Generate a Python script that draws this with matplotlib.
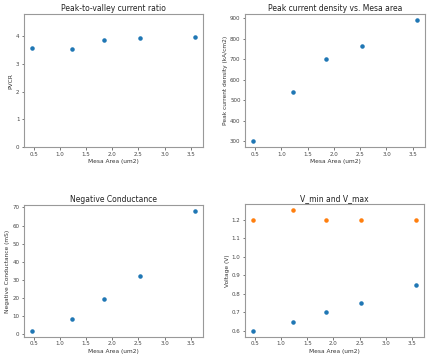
import matplotlib
matplotlib.use("Agg")
import matplotlib.pyplot as plt

mesa_area = [0.47, 1.23, 1.85, 2.53, 3.58]
pvcr = [3.57, 3.55, 3.88, 3.94, 3.99]
peak_density = [300, 538, 700, 762, 890]
neg_conductance = [1.7, 8.0, 19.3, 32.0, 68.0]
v_min = [0.60, 0.65, 0.70, 0.75, 0.85]
v_max = [1.20, 1.25, 1.20, 1.20, 1.20]

blue = "#1f77b4"
orange = "#ff7f0e"

fig = plt.figure(figsize=(4.37, 3.63), dpi=100)

positions = [
    [0.055, 0.595, 0.41, 0.366],
    [0.561, 0.595, 0.412, 0.366],
    [0.055, 0.072, 0.41, 0.363],
    [0.561, 0.072, 0.410, 0.365],
]
axes = [fig.add_axes(p) for p in positions]

title_fs = 5.5
tick_fs = 4
label_fs = 4.2

def style(ax, title, ylabel):
    ax.set_title(title, fontsize=title_fs, color="#222222", pad=2.5)
    ax.set_xlabel("Mesa Area (um2)", fontsize=label_fs, color="#333333", labelpad=1.5)
    ax.set_ylabel(ylabel, fontsize=label_fs, color="#333333", labelpad=1.5)
    ax.tick_params(labelsize=tick_fs, length=1.8, width=0.5, pad=1.5,
                   colors="#444444")
    for s in ax.spines.values():
        s.set_color("#999999")
        s.set_linewidth(0.8)

ms = 5
ax = axes[0]
ax.scatter(mesa_area, pvcr, s=ms, color=blue)
ax.set_ylim(0, 4.8)
style(ax, "Peak-to-valley current ratio", "PVCR")

ax = axes[1]
ax.scatter(mesa_area, peak_density, s=ms, color=blue)
style(ax, "Peak current density vs. Mesa area", "Peak current density (kA/cm2)")

ax = axes[2]
ax.scatter(mesa_area, neg_conductance, s=ms, color=blue)
style(ax, "Negative Conductance", "Negative Conductance (mS)")

ax = axes[3]
ax.scatter(mesa_area, v_min, s=ms, color=blue)
ax.scatter(mesa_area, v_max, s=ms, color=orange)
style(ax, "V_min and V_max", "Voltage (V)")

fig.savefig("out.png", dpi=100, facecolor="white")
